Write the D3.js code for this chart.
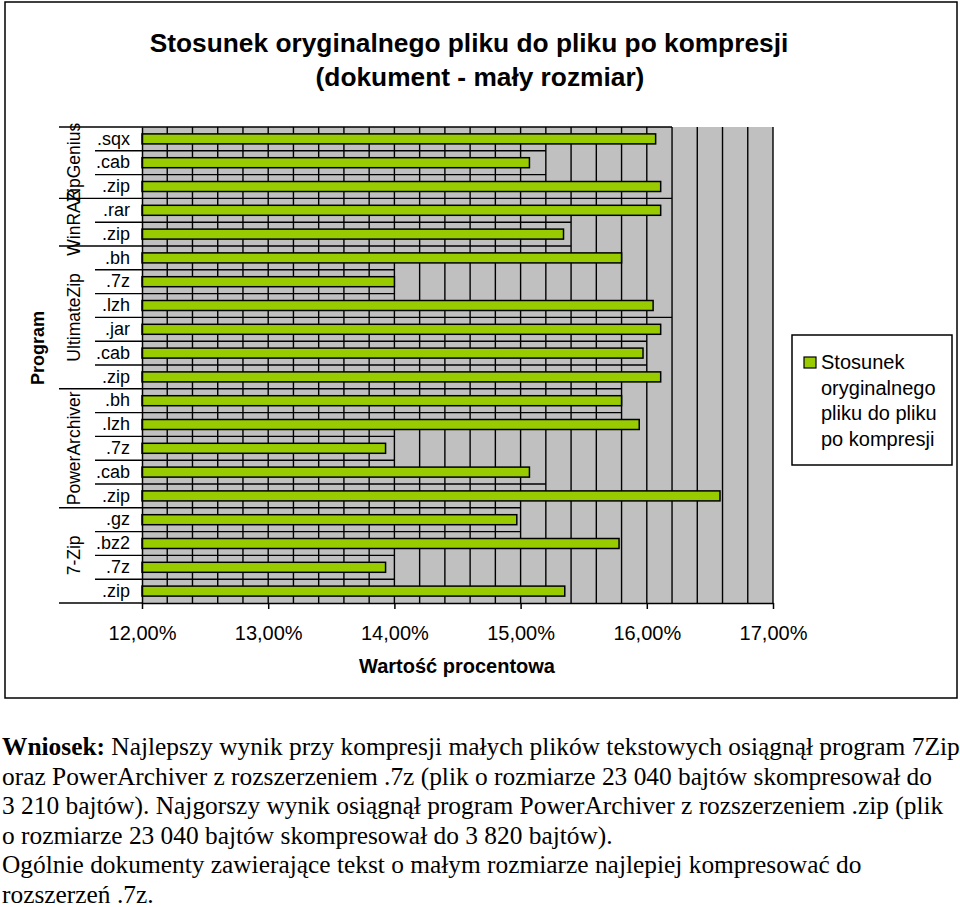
<!DOCTYPE html>
<html>
<head>
<meta charset="utf-8">
<script src="https://cdn.jsdelivr.net/npm/d3@7"></script>
<style>
  html, body { margin: 0; padding: 0; background: #fff; }
  svg { display: block; }
</style>
</head>
<body>
<script>
// ---------------- DATA ----------------
const titleLines = ["Stosunek oryginalnego pliku do pliku po kompresji", "(dokument - mały rozmiar)"];
const programs = ["ZipGenius", "WinRAR", "UltimateZip", "PowerArchiver", "7-Zip"];
const programCounts = [3, 2, 6, 5, 4];
const extensions = [".sqx", ".cab", ".zip", ".rar", ".zip", ".bh", ".7z", ".lzh", ".jar", ".cab", ".zip",
                    ".bh", ".lzh", ".7z", ".cab", ".zip", ".gz", ".bz2", ".7z", ".zip"];
const values = [16.07, 15.07, 16.11, 16.11, 15.34, 15.80, 14.00, 16.05, 16.11, 15.97, 16.11,
                15.80, 15.94, 13.93, 15.07, 16.58, 14.97, 15.78, 13.93, 15.35];
const xTicks = [12, 13, 14, 15, 16, 17];
const gridStep = 0.2;
const xTitle = "Wartość procentowa";
const yTitle = "Program";
const legendLines = ["Stosunek", "oryginalnego", "pliku do pliku", "po kompresji"];
const noteBold = "Wniosek:";
const noteLines = [
  " Najlepszy wynik przy kompresji małych plików tekstowych osiągnął program 7Zip",
  "oraz PowerArchiver z rozszerzeniem .7z (plik o rozmiarze 23 040 bajtów skompresował do",
  "3 210 bajtów). Najgorszy wynik osiągnął program PowerArchiver z rozszerzeniem .zip (plik",
  "o rozmiarze 23 040 bajtów skompresował do 3 820 bajtów).",
  "Ogólnie dokumenty zawierające tekst o małym rozmiarze najlepiej kompresować do",
  "rozszerzeń .7z."
];

// ---------------- CHART ----------------
(function () {
const SANS = "'Liberation Sans', Arial, sans-serif";
const SERIF = "'Liberation Serif', 'Times New Roman', serif";
const barColor = "#99cc00";

const svg = d3.select("body").append("svg").attr("width", 960).attr("height", 907);

// chart frame
svg.append("rect").attr("x", 5).attr("y", 2).attr("width", 952).attr("height", 696)
  .attr("fill", "#fff").attr("stroke", "#000").attr("stroke-width", 1.5);

// title
const titleX = [469, 480];
svg.selectAll("text.title").data(titleLines).join("text")
  .attr("class", "title")
  .attr("x", (d, i) => titleX[i]).attr("y", (d, i) => 52 + i * 34)
  .attr("text-anchor", "middle")
  .style("font-family", SANS).style("font-weight", "bold").style("font-size", "26.3px")
  .text(d => d);

const plotTop = 127, plotBottom = 603;
const x = d3.scaleLinear().domain([12, 17]).range([142, 773]);
const y = d3.scaleBand().domain(d3.range(values.length)).range([plotTop, plotBottom]);
const bw = y.bandwidth();
const barH = 10;

// plot background
svg.append("rect").attr("x", x(12)).attr("y", plotTop)
  .attr("width", x(17) - x(12)).attr("height", plotBottom - plotTop).attr("fill", "#c0c0c0");

// vertical gridlines every 0.2 %
const gridVals = d3.range(1, Math.round((17 - 12) / gridStep) + 1).map(i => 12 + i * gridStep);
svg.append("g").selectAll("line").data(gridVals).join("line")
  .attr("x1", d => x(d)).attr("x2", d => x(d))
  .attr("y1", plotTop).attr("y2", plotBottom)
  .attr("stroke", "#000").attr("stroke-width", 1.4);

// horizontal category lines (extend to grid cell just past the shorter neighbouring bar)
const ceilGrid = v => 12 + Math.ceil((v - 12) / gridStep - 1e-6) * gridStep;
const hBounds = values.map((v, i) => i === 0 ? ceilGrid(v) : ceilGrid(Math.min(values[i - 1], v)));
svg.append("g").selectAll("line").data(hBounds).join("line")
  .attr("x1", x(12)).attr("x2", d => x(d))
  .attr("y1", (d, i) => y(i)).attr("y2", (d, i) => y(i))
  .attr("stroke", "#000").attr("stroke-width", 1.4);

// bars
svg.append("g").selectAll("rect").data(values).join("rect")
  .attr("x", x(12))
  .attr("y", (d, i) => y(i) + (bw - barH) / 2)
  .attr("width", d => x(d) - x(12))
  .attr("height", barH)
  .attr("fill", barColor).attr("stroke", "#000").attr("stroke-width", 1.5);

// left label area boundaries
const groupStarts = [];
programCounts.reduce((acc, c) => { groupStarts.push(acc); return acc + c; }, 0);
const boundaryIdx = d3.range(values.length + 1);
svg.append("g").selectAll("line").data(boundaryIdx).join("line")
  .attr("x1", k => (groupStarts.includes(k) || k === values.length) ? 59 : 95)
  .attr("x2", 142)
  .attr("y1", k => plotTop + k * bw).attr("y2", k => plotTop + k * bw)
  .attr("stroke", "#000").attr("stroke-width", 1.4);

// y axis with extension labels
const yAxis = svg.append("g").attr("transform", "translate(142,0)")
  .call(d3.axisLeft(y).tickSize(0).tickSizeOuter(0).tickPadding(12).tickFormat(i => extensions[i]));
yAxis.select(".domain").attr("stroke", "#000").attr("stroke-width", 1.5);
yAxis.selectAll("text").style("font-family", SANS).style("font-size", "18px").attr("fill", "#000");

// program group labels
svg.append("g").selectAll("text").data(programs).join("text")
  .attr("transform", (d, i) => {
    const cy = plotTop + (groupStarts[i] + programCounts[i] / 2) * bw;
    return `translate(74,${cy}) rotate(-90)`;
  })
  .attr("text-anchor", "middle").attr("dy", "0.35em")
  .style("font-family", SANS).style("font-size", "17.5px")
  .text(d => d);

// y title
svg.append("text").attr("transform", "translate(38,348) rotate(-90)")
  .attr("text-anchor", "middle").attr("dy", "0.35em")
  .style("font-family", SANS).style("font-weight", "bold").style("font-size", "18px")
  .text(yTitle);

// x axis
const xAxis = svg.append("g").attr("transform", `translate(0,${plotBottom})`)
  .call(d3.axisBottom(x).tickValues(xTicks).tickSize(6).tickSizeOuter(0).tickPadding(17)
    .tickFormat(d => d.toFixed(2).replace(".", ",") + "%"));
xAxis.select(".domain").attr("stroke", "#000").attr("stroke-width", 1.5);
xAxis.selectAll("line").attr("stroke", "#000").attr("stroke-width", 1.5);
xAxis.selectAll("text").style("font-family", SANS).style("font-size", "20px").attr("fill", "#000");

// x title
svg.append("text").attr("x", 457).attr("y", 673).attr("text-anchor", "middle")
  .style("font-family", SANS).style("font-weight", "bold").style("font-size", "20px")
  .text(xTitle);

// legend
const lg = svg.append("g");
lg.append("rect").attr("x", 792).attr("y", 335).attr("width", 160).attr("height", 130)
  .attr("fill", "#fff").attr("stroke", "#000").attr("stroke-width", 1.5);
lg.append("rect").attr("x", 804).attr("y", 357).attr("width", 12).attr("height", 11)
  .attr("fill", barColor).attr("stroke", "#000").attr("stroke-width", 1.2);
lg.selectAll("text").data(legendLines).join("text")
  .attr("x", 821).attr("y", (d, i) => 369 + i * 25.5)
  .style("font-family", SANS).style("font-size", "20px")
  .text(d => d);

// conclusion paragraph
const note = svg.append("g");
noteLines.forEach((line, i) => {
  const t = note.append("text").attr("x", 2).attr("y", 755 + i * 29.6)
    .style("font-family", SERIF).style("font-size", "25.4px").attr("fill", "#000");
  if (i === 0) t.append("tspan").style("font-weight", "bold").text(noteBold);
  t.append("tspan").text(line);
});
})();
</script>
</body>
</html>
